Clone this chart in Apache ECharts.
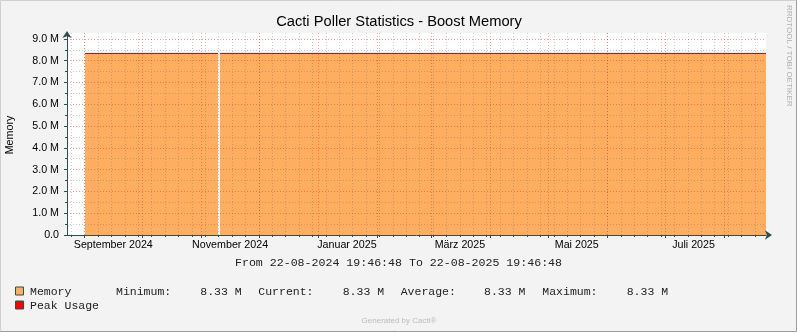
<!DOCTYPE html>
<html><head><meta charset="utf-8">
<script src="https://cdn.jsdelivr.net/npm/echarts@6/dist/echarts.min.js"></script>
<style>html,body{margin:0;padding:0;background:#F3F3F3}#c{width:797px;height:332px}</style>
</head><body><div id="c"></div><script>
// ---- data ----
const chartTitle = 'Cacti Poller Statistics - Boost Memory';
const rangeStart = '2024-08-22T19:46:48Z';
const rangeEnd = '2025-08-22T19:46:48Z';
const rangeText = 'From 22-08-2024 19:46:48 To 22-08-2025 19:46:48';
const memoryTimes = ['2024-09-01T06:00:00Z','2024-11-09T15:30:00Z','2024-11-10T04:00:00Z','2024-11-10T16:30:00Z','2025-08-22T19:46:48Z'];
const memoryValues = [8.33e6, 8.33e6, null, 8.33e6, 8.33e6];
const peakValues = [8.33e6, 8.33e6, null, 8.33e6, 8.33e6];
const yTicks = [0,1e6,2e6,3e6,4e6,5e6,6e6,7e6,8e6,9e6];
const yMinorTicks = [0.5e6,1.5e6,2.5e6,3.5e6,4.5e6,5.5e6,6.5e6,7.5e6,8.5e6];
const yLabels = ['0.0','1.0 M','2.0 M','3.0 M','4.0 M','5.0 M','6.0 M','7.0 M','8.0 M','9.0 M'];
const monthStarts = ['2024-09-01','2024-10-01','2024-11-01','2024-12-01','2025-01-01','2025-02-01','2025-03-01','2025-04-01','2025-05-01','2025-06-01','2025-07-01','2025-08-01'];
const monthLabelDates = ['2024-09-16','2024-11-16','2025-01-16','2025-03-16','2025-05-16','2025-07-16'];
const monthLabels = ['September 2024','November 2024','Januar 2025','März 2025','Mai 2025','Juli 2025'];
const weekStarts = ['2024-08-25','2024-09-01','2024-09-08','2024-09-15','2024-09-22','2024-09-29','2024-10-06','2024-10-13','2024-10-20','2024-10-27','2024-11-03','2024-11-10','2024-11-17','2024-11-24','2024-12-01','2024-12-08','2024-12-15','2024-12-22','2024-12-29','2025-01-05','2025-01-12','2025-01-19','2025-01-26','2025-02-02','2025-02-09','2025-02-16','2025-02-23','2025-03-02','2025-03-09','2025-03-16','2025-03-23','2025-03-30','2025-04-06','2025-04-13','2025-04-20','2025-04-27','2025-05-04','2025-05-11','2025-05-18','2025-05-25','2025-06-01','2025-06-08','2025-06-15','2025-06-22','2025-06-29','2025-07-06','2025-07-13','2025-07-20','2025-07-27','2025-08-03','2025-08-10','2025-08-17'];
const legendNames = ['Memory','Peak Usage'];
const legendColors = ['#FFAD5E','#FF0000'];
const statNames = ['Minimum:','Current:','Average:','Maximum:'];
const statValues = ['8.33 M','8.33 M','8.33 M','8.33 M'];

// ---- helpers ----
const t = s => Date.parse(s.length === 10 ? s + 'T00:00:00Z' : s);
const xMin = t(rangeStart), xMax = t(rangeEnd);
const monthMs = monthStarts.map(t);
const weekMs = weekStarts.map(t);
const labelMs = monthLabelDates.map(t);
const AX = '#2F4F4F';
const MAJOR = 'rgba(220,40,40,0.42)';
const MINOR = 'rgba(110,110,110,0.36)';
const SANS = '"Liberation Sans", Arial, sans-serif';
const MONO = '"Liberation Mono", "Courier New", monospace';

const chart = echarts.init(document.getElementById('c'), null, {renderer:'canvas'});
const graphics = [
  {type:'polyline', shape:{points:[[0.5,331.5],[0.5,0.5],[796.5,0.5]]}, style:{stroke:'#D0D0D0', lineWidth:1, fill:null}},
  {type:'polyline', shape:{points:[[0.5,331.5],[796.5,331.5],[796.5,0.5]]}, style:{stroke:'#9A9A9A', lineWidth:1, fill:null}},
  {type:'text', x:399, y:22, style:{text:chartTitle, font:'14.7px ' + SANS, fill:'#000', align:'center', verticalAlign:'middle'}},
  {type:'text', x:10, y:135, rotation:Math.PI/2, style:{text:'Memory', font:'10.7px ' + SANS, fill:'#000', align:'center', verticalAlign:'middle'}},
  {type:'text', x:789, y:5, rotation:-Math.PI/2, style:{text:'RRDTOOL / TOBI OETIKER', font:'8px ' + SANS, fill:'#B0B0B0', align:'left', verticalAlign:'middle'}},
  {type:'text', x:398.5, y:263, style:{text:rangeText, font:'11.6px ' + MONO, fill:'#222', align:'center', verticalAlign:'middle'}},
  {type:'text', x:399, y:321, style:{text:'Generated by Cacti®', font:'8px ' + SANS, fill:'#BBBBBB', align:'center', verticalAlign:'middle'}}
];
const rowY = [291.5, 305.5];
legendNames.forEach((n,i) => {
  graphics.push({type:'rect', shape:{x:15.5, y:rowY[i]-4.5, width:8, height:8}, style:{fill:legendColors[i], stroke:AX, lineWidth:1}});
  graphics.push({type:'text', x:30, y:rowY[i], style:{text:n, font:'11.5px ' + MONO, fill:'#222', align:'left', verticalAlign:'middle'}});
});
const statNameX = [116, 258.3, 400.7, 542.3];
const statValX = [200.3, 342.7, 484, 626.7];
statNames.forEach((n,i) => {
  graphics.push({type:'text', x:statNameX[i], y:rowY[0], style:{text:n, font:'11.5px ' + MONO, fill:'#222', align:'left', verticalAlign:'middle'}});
  graphics.push({type:'text', x:statValX[i], y:rowY[0], style:{text:statValues[i], font:'11.5px ' + MONO, fill:'#222', align:'left', verticalAlign:'middle'}});
});

const yMax = 9.27e6;
chart.setOption({
  animation:false,
  backgroundColor:'#F3F3F3',
  grid:{left:67, right:31, top:33, bottom:97, show:true, backgroundColor:'#FFFFFF', borderWidth:0},
  xAxis:[
    {type:'value', position:'bottom', min:xMin, max:xMax, z:4,
     axisLine:{show:true, onZero:false, lineStyle:{color:AX, width:1}, symbol:['none','arrow'], symbolSize:[7,7], symbolOffset:[0,6]},
     axisTick:{show:true, customValues:monthMs, length:3, lineStyle:{color:AX}},
     axisLabel:{show:true, customValues:labelMs, formatter:v => { const i = labelMs.indexOf(v); return i >= 0 ? monthLabels[i] : ''; }, margin:5, color:'#000', fontFamily:SANS, fontSize:10.7},
     splitLine:{show:true, lineStyle:{color:MAJOR, width:1, type:[1,2]}}
    },
    {type:'value', position:'bottom', min:xMin, max:xMax, z:3,
     axisLine:{show:false},
     axisTick:{show:true, customValues:weekMs, length:2, lineStyle:{color:AX}},
     axisLabel:{show:false},
     splitLine:{show:true, lineStyle:{color:MINOR, width:1, type:[1,2]}}
    }
  ],
  yAxis:[
    {type:'value', position:'left', min:0, max:yMax, z:4,
     axisLine:{show:true, onZero:false, lineStyle:{color:AX, width:1}, symbol:['none','arrow'], symbolSize:[7,7], symbolOffset:[0,2]},
     axisTick:{show:true, customValues:yTicks, length:3, lineStyle:{color:AX}},
     axisLabel:{show:true, customValues:yTicks, formatter:v => { const i = yTicks.indexOf(v); return i >= 0 ? yLabels[i] : ''; }, margin:8, color:'#000', fontFamily:SANS, fontSize:10.7},
     splitLine:{show:true, lineStyle:{color:MAJOR, width:1, type:[1,2]}}
    },
    {type:'value', position:'left', min:0, max:yMax, z:3,
     axisLine:{show:false},
     axisTick:{show:true, customValues:yMinorTicks, length:2, lineStyle:{color:AX}},
     axisLabel:{show:false},
     splitLine:{show:true, lineStyle:{color:MINOR, width:1, type:[1,2]}}
    }
  ],
  series:[
    {name:'Memory', type:'line', xAxisIndex:0, yAxisIndex:0, z:2, symbol:'none', connectNulls:false,
     data:memoryTimes.map((d,i) => [t(d), memoryValues[i] === null ? '-' : memoryValues[i]]),
     lineStyle:{width:0, opacity:0}, areaStyle:{color:legendColors[0], opacity:1}},
    {name:'Peak Usage', type:'line', xAxisIndex:0, yAxisIndex:0, z:6, symbol:'none', connectNulls:false,
     data:memoryTimes.map((d,i) => [t(d), peakValues[i] === null ? '-' : peakValues[i]]),
     lineStyle:{width:1, color:'#E00000'}}
  ],
  graphic:graphics
});
</script></body></html>
